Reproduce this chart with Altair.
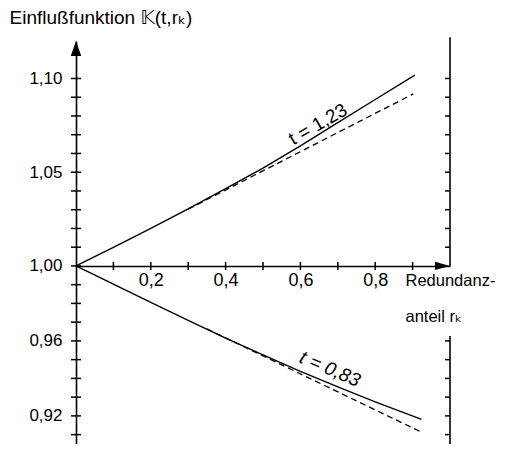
import altair as alt
import pandas as pd

FONT = "'Liberation Sans', 'DejaVu Sans', sans-serif"

# ---- curve data ----
r_up_solid = [0.0, 0.1, 0.2, 0.3, 0.4, 0.5, 0.6, 0.7, 0.8, 0.906]
k_up_solid = [1.0, 1.0099, 1.0200, 1.0305, 1.0412, 1.0522, 1.0640, 1.0765, 1.0888, 1.1018]
r_up_dash = [0.30, 0.902]
k_up_dash = [1.0303, 1.0918]

r_dn_solid = [0.0, 0.1, 0.2, 0.3, 0.4, 0.5, 0.6, 0.7, 0.8, 0.924]
k_dn_solid = [1.0, 0.9903, 0.9806, 0.9710, 0.9615, 0.9525, 0.9437, 0.9355, 0.9275, 0.9181]
r_dn_dash = [0.35, 0.924]
k_dn_dash = [0.9664, 0.9113]

# curve labels
label_texts = ["t = 1,23", "t = 0,83"]
label_r = [0.647, 0.679]
label_k = [1.0755, 0.945]

# ---- axes ----
y_domain = [0.905, 1.12]
x_domain = [0.0, 1.0]
y_label_values = [0.92, 0.96, 1.00, 1.05, 1.10]
y_tick_values = [0.91, 0.92, 0.93, 0.94, 0.95, 0.96, 0.97, 0.98, 0.99, 1.00,
                 1.01, 1.02, 1.03, 1.04, 1.05, 1.06, 1.07, 1.08, 1.09, 1.10]
x_label_values = [0.2, 0.4, 0.6, 0.8]
x_tick_values = [0.1, 0.2, 0.3, 0.4, 0.5, 0.6, 0.7, 0.8, 0.9]
right_tick_values = [0.91, 0.92, 0.93, 0.94, 0.95, 0.96,
                     1.01, 1.02, 1.03, 1.04, 1.05, 1.06, 1.07, 1.08, 1.09, 1.10]
right_line_start = [1.122, 0.9626]
right_line_end = [1.0, 0.905]

xs = alt.Scale(domain=x_domain, nice=False, zero=False)
ys = alt.Scale(domain=y_domain, nice=False, zero=False)

curves = pd.DataFrame(
    [{"r": r, "K": k, "curve": "up"} for r, k in zip(r_up_solid, k_up_solid)]
    + [{"r": r, "K": k, "curve": "dn"} for r, k in zip(r_dn_solid, k_dn_solid)]
)
dashes = pd.DataFrame(
    [{"r": r, "K": k, "curve": "up"} for r, k in zip(r_up_dash, k_up_dash)]
    + [{"r": r, "K": k, "curve": "dn"} for r, k in zip(r_dn_dash, k_dn_dash)]
)

y_axis = alt.Axis(
    values=y_label_values,
    labelExpr="replace(format(datum.value, '.2f'), '.', ',')",
    ticks=False, grid=False, domain=True, domainColor="black", domainWidth=1.6,
    labelPadding=14, labelFontSize=17, labelFont=FONT, labelColor="black",
    title="Einflußfunktion  𝕂(t,rₖ)", titleAngle=0, titleAlign="left",
    titleBaseline="middle", titleX=-67, titleY=-24, titleFontSize=19,
    titleFont=FONT, titleFontWeight="normal", titleColor="black",
)
x_axis = alt.Axis(
    values=x_label_values,
    labelExpr="replace(format(datum.value, '.1f'), '.', ',')",
    ticks=False, grid=False, domain=True, domainColor="black", domainWidth=1.6,
    offset=-178.07, labelPadding=6, labelFontSize=18, labelFont=FONT,
    labelColor="black",
    title=["Redundanz-", "anteil  rₖ"], titleX=329, titleY=7, titleAlign="left",
    titleBaseline="top", titleLineHeight=36, titleFontSize=16.5, titleFont=FONT,
    titleFontWeight="normal", titleColor="black",
)


def X():
    return alt.X("r:Q", scale=xs, axis=x_axis)


def Y():
    return alt.Y("K:Q", scale=ys, axis=y_axis)


solid = alt.Chart(curves).mark_line(color="black", strokeWidth=1.4).encode(
    x=X(), y=Y(), detail="curve:N",
)
dashed = alt.Chart(dashes).mark_line(color="black", strokeWidth=1.3, strokeDash=[6, 4]).encode(
    x=X(), y=Y(), detail="curve:N",
)

left_ticks = alt.Chart(pd.DataFrame({"r": [0.0] * len(y_tick_values), "K": y_tick_values})).mark_tick(
    orient="horizontal", size=10, thickness=1.5, color="black", opacity=1
).encode(x=X(), y=Y())

bottom_ticks = alt.Chart(pd.DataFrame({"r": x_tick_values, "K": [1.0] * len(x_tick_values)})).mark_tick(
    orient="vertical", size=8, thickness=1.5, color="black", opacity=1
).encode(x=X(), y=Y())

right_ticks = alt.Chart(pd.DataFrame({"r": [1.0] * len(right_tick_values), "K": right_tick_values})).mark_tick(
    orient="horizontal", size=5, thickness=1.5, color="black", opacity=1, xOffset=-2.5
).encode(x=X(), y=Y())

right_line = alt.Chart(pd.DataFrame({"r": [1.0, 1.0], "K": right_line_start, "K2": right_line_end})).mark_rule(
    color="black", strokeWidth=1.6
).encode(x=X(), y=Y(), y2="K2:Q")

arrow_up = alt.Chart(pd.DataFrame({"r": [0.0], "K": [y_domain[1]]})).mark_point(
    shape="M 0 -1 L 0.7 1 L -0.7 1 Z", filled=True, size=225, color="black",
    opacity=1, strokeWidth=0, yOffset=7.5
).encode(x=X(), y=Y())

arrow_right = alt.Chart(pd.DataFrame({"r": [x_domain[1]], "K": [1.0]})).mark_point(
    shape="M 1 0 L -1 0.55 L -1 -0.55 Z", filled=True, size=225, color="black",
    opacity=1, strokeWidth=0, xOffset=-7.5
).encode(x=X(), y=Y())

lab_up = alt.Chart(pd.DataFrame({"r": [label_r[0]], "K": [label_k[0]], "t": [label_texts[0]]})).mark_text(
    angle=330, fontSize=19, font=FONT, color="black", align="center", baseline="middle"
).encode(x=X(), y=Y(), text="t:N")

lab_dn = alt.Chart(pd.DataFrame({"r": [label_r[1]], "K": [label_k[1]], "t": [label_texts[1]]})).mark_text(
    angle=23, fontSize=19, font=FONT, fontStyle="italic", color="black", align="center", baseline="middle"
).encode(x=X(), y=Y(), text="t:N")

chart = alt.layer(
    solid, dashed, left_ticks, bottom_ticks, right_ticks, right_line,
    arrow_up, arrow_right, lab_up, lab_dn
).properties(
    width=374, height=403,
    padding={"left": 68, "top": 33, "right": 50, "bottom": 0},
    autosize="none",
    background="white",
).configure_view(stroke=None)

chart.save("out.html", embed_options={"renderer": "svg", "actions": False})
